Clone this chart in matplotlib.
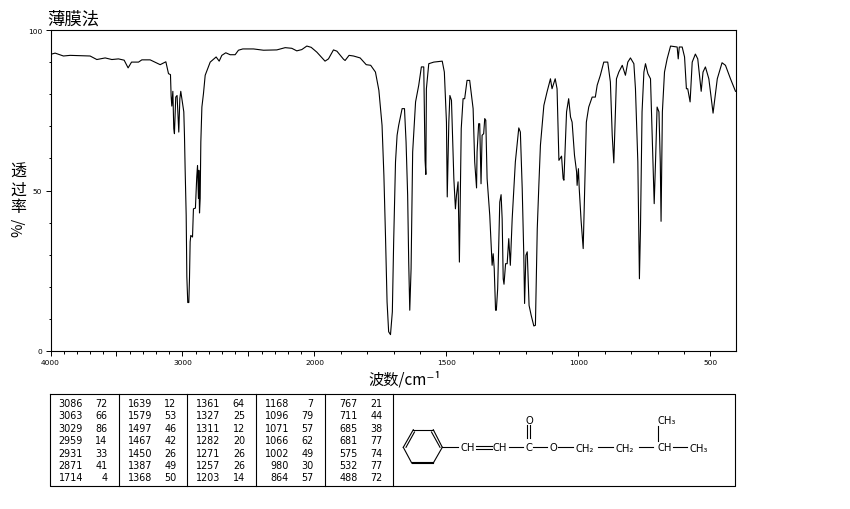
#!/usr/bin/env python3
import numpy as np
from matplotlib import pyplot as plt

plt.rcParams["font.family"] = ["Noto Sans CJK SC", "DejaVu Sans"]

# spectrum
wavenumber = [4000, 3965, 3902, 3851, 3700, 3649, 3586, 3535, 3485, 3442, 3412, 3386, 3333, 3308, 3245, 3169, 3126,
              3106, 3091, 3086, 3081, 3073, 3066, 3061, 3051, 3041, 3035, 3028, 3020, 3013, 3005, 2990, 2985, 2980,
              2972, 2967, 2960, 2952, 2947, 2942, 2937, 2924, 2917, 2902, 2892, 2886, 2879, 2876, 2871, 2866, 2861,
              2853, 2841, 2828, 2790, 2745, 2722, 2702, 2672, 2639, 2601, 2576, 2543, 2462, 2386, 2285, 2222, 2172,
              2134, 2096, 2058, 2025, 1991, 1960, 1947, 1928, 1915, 1890, 1884, 1869, 1852, 1827, 1804, 1787, 1769,
              1756, 1744, 1737, 1731, 1725, 1719, 1712, 1705, 1700, 1693, 1687, 1681, 1668, 1659, 1653, 1647, 1643,
              1639, 1634, 1628, 1617, 1605, 1595, 1586, 1581, 1578, 1576, 1567, 1548, 1516, 1508, 1500, 1497, 1491,
              1487, 1481, 1472, 1466, 1462, 1456, 1451, 1444, 1437, 1431, 1422, 1412, 1399, 1393, 1386, 1384, 1378,
              1374, 1369, 1365, 1359, 1355, 1351, 1346, 1336, 1327, 1323, 1319, 1314, 1311, 1306, 1298, 1293, 1289,
              1285, 1282, 1276, 1270, 1264, 1258, 1251, 1239, 1226, 1220, 1213, 1207, 1204, 1199, 1194, 1187, 1179,
              1169, 1163, 1156, 1150, 1144, 1131, 1119, 1106, 1100, 1088, 1081, 1074, 1064, 1058, 1055, 1045, 1037,
              1030, 1024, 1015, 1007, 1005, 1000, 997, 990, 982, 977, 970, 961, 948, 936, 929, 917, 904, 889, 879,
              872, 866, 862, 856, 847, 834, 822, 813, 803, 790, 784, 775, 771, 769, 765, 759, 752, 746, 737, 727,
              721, 713, 708, 702, 695, 690, 687, 682, 674, 664, 651, 626, 622, 618, 607, 598, 591, 586, 577, 569,
              557, 548, 535, 528, 519, 506, 490, 474, 456, 443, 424, 405]
transmittance = [92.4, 92.8, 91.9, 92.1, 91.9, 90.8, 91.3, 90.8, 91.0, 90.6, 88.2, 90.0, 90.0, 90.7, 90.7, 89.2, 90.1,
                 86.4, 86.1, 79.4, 76.3, 80.9, 69.3, 67.7, 79.1, 79.6, 74.1, 68.2, 78.6, 80.9, 78.6, 74.5, 67.2, 56.8,
                 42.3, 23.1, 15.1, 15.1, 22.5, 34.0, 36.0, 35.5, 44.3, 44.5, 54.2, 57.8, 47.5, 56.3, 43.0, 47.5, 65.1,
                 76.0, 80.2, 85.9, 90.0, 91.6, 90.3, 92.1, 92.9, 92.3, 92.3, 93.7, 94.1, 94.1, 93.7, 93.8, 94.5, 94.3,
                 93.5, 93.9, 95.0, 94.6, 93.1, 90.3, 91.0, 93.8, 93.4, 90.9, 90.5, 92.1, 91.9, 91.3, 89.2, 89.0, 86.9,
                 81.2, 70.3, 54.7, 36.0, 15.3, 6.0, 5.1, 12.2, 34.0, 58.9, 67.2, 70.3, 75.5, 75.5, 65.1, 48.5, 27.7,
                 12.7, 25.6, 62.0, 77.6, 82.8, 88.5, 88.5, 59.4, 55.0, 81.7, 89.5, 90.0, 90.3, 86.9, 71.3, 48.0, 71.3,
                 79.6, 78.1, 53.7, 44.3, 48.5, 52.7, 27.7, 69.3, 78.6, 78.6, 84.3, 84.3, 75.5, 58.9, 50.8, 62.0, 70.8,
                 70.8, 52.1, 67.2, 67.7, 72.4, 71.9, 53.7, 42.3, 26.7, 30.3, 25.6, 12.7, 12.7, 19.4, 46.4, 48.7, 41.2,
                 22.5, 20.8, 27.2, 27.2, 35.0, 26.7, 41.2, 58.9, 69.5, 68.2, 50.6, 29.8, 14.8, 29.8, 30.9, 14.2, 11.1,
                 7.8, 8.0, 38.1, 51.6, 64.1, 76.5, 80.7, 84.8, 81.7, 84.8, 81.7, 59.4, 60.7, 53.7, 53.2, 74.5, 78.6,
                 72.9, 71.3, 61.0, 55.8, 51.6, 56.8, 50.6, 40.7, 31.9, 48.5, 71.3, 76.0, 79.1, 79.1, 82.8, 85.9, 90.0,
                 90.0, 83.8, 67.2, 58.6, 69.3, 84.8, 86.9, 89.0, 85.9, 90.0, 91.3, 89.5, 81.7, 58.9, 32.9, 22.5, 38.1,
                 74.5, 86.9, 89.5, 86.4, 84.8, 68.2, 45.9, 58.9, 76.0, 74.5, 58.9, 40.4, 74.5, 86.9, 91.0, 95.0, 94.7,
                 91.0, 94.7, 94.7, 91.6, 81.7, 81.7, 77.6, 90.0, 92.5, 91.0, 80.9, 86.9, 88.5, 84.8, 74.1, 84.8, 89.8,
                 89.0, 84.8, 80.9]

x_labelled = [4000, 3000, 2000, 1500, 1000, 500]
x_long = [3500, 2500]
y_labelled = [0, 50, 100]

peak_wn = [3086, 3063, 3029, 2959, 2931, 2871, 1714,
           1639, 1579, 1497, 1467, 1450, 1387, 1368,
           1361, 1327, 1311, 1282, 1271, 1257, 1203,
           1168, 1096, 1071, 1066, 1002, 980, 864,
           767, 711, 685, 681, 575, 532, 488]
peak_t = [72, 66, 86, 14, 33, 41, 4,
          12, 53, 46, 42, 26, 49, 50,
          64, 25, 12, 20, 26, 26, 14,
          7, 79, 57, 62, 49, 30, 57,
          21, 44, 38, 77, 74, 77, 72]

W, H = 850, 510


def fwd(x):
    x = np.asarray(x, dtype=float)
    return np.where(x > 2000, 2000 + (x - 2000) / 2, x)


def inv(x):
    x = np.asarray(x, dtype=float)
    return np.where(x > 2000, 2000 + (x - 2000) * 2, x)


fig = plt.figure(figsize=(W / 100, H / 100), dpi=100)
ax = fig.add_axes([50.5 / W, 1 - 352 / H, 685 / W, 321 / H])
ax.set_xscale("function", functions=(fwd, inv))
ax.plot(wavenumber, transmittance, color="black", lw=0.8)
ax.set_xlim(4000, 405)
ax.set_ylim(0, 100)

ax.set_xticks(x_labelled + x_long, [str(v) for v in x_labelled] + [""] * len(x_long))
ax.set_xticks(np.arange(500, 4000, 100), minor=True)
ax.set_yticks(y_labelled, [str(v) for v in y_labelled])
ax.set_yticks(np.arange(0, 100, 10), minor=True)
ax.tick_params(which="major", length=3.6, width=0.7, labelsize=5.4, pad=2.5)
ax.tick_params(which="minor", length=1.8, width=0.7)
for lab in ax.get_xticklabels() + ax.get_yticklabels():
    lab.set_family("DejaVu Sans")
for s in ax.spines.values():
    s.set_linewidth(0.8)

# everything outside the plot frame is placed in pixels
ov = fig.add_axes([0, 0, 1, 1])
ov.set_xlim(0, W)
ov.set_ylim(H, 0)
ov.axis("off")

ov.text(47, 20, "薄膜法", fontsize=12.5, ha="left", va="center")
for ch, y in zip("透过率", [172, 190, 208]):
    ov.text(18, y, ch, fontsize=11.5, ha="center", va="center")
ov.text(18, 227, "%/", fontsize=10.5, rotation=90, ha="center", va="center")
ov.text(405, 380, "波数/cm⁻¹", fontsize=11, ha="center", va="center")

# peak table
ov.plot([50, 735, 735, 50, 50], [395, 395, 487, 487, 395], color="black", lw=0.8)
col_left = [50, 119, 187.5, 256, 325]
for x in col_left[1:] + [393]:
    ov.plot([x, x], [395, 487], color="black", lw=0.8)
row_y = [404.5, 416.5, 429, 441.5, 454, 466, 478]
for i, (wn, t) in enumerate(zip(peak_wn, peak_t)):
    x0 = col_left[i // 7]
    y = row_y[i % 7]
    ov.text(x0 + 33, y, str(wn), fontsize=6.9, family="DejaVu Sans", ha="right", va="center")
    ov.text(x0 + 57.5, y, str(t), fontsize=6.9, family="DejaVu Sans", ha="right", va="center")

# structure
bonds = [((403.3, 448.3), (413.3, 430.7)), ((413.3, 430.7), (433.3, 430.7)), ((433.3, 430.7), (442.3, 448.3)),
         ((442.3, 448.3), (433.3, 464)), ((433.3, 464), (411.7, 464)), ((411.7, 464), (403.3, 448.3)),
         ((406, 448.3), (414.5, 433)), ((431.5, 433), (440, 448.3)), ((411.7, 463), (433.3, 463)),
         ((442.3, 448.3), (458.3, 448.3)), ((476, 447), (491.7, 447)), ((476, 450), (491.7, 450)),
         ((509.3, 448.3), (523.3, 448.3)), ((527.5, 439), (527.5, 426)), ((530.5, 439), (530.5, 426)),
         ((533.3, 448.3), (547.3, 448.3)), ((557.7, 448.3), (572.7, 448.3)), ((598.3, 448.3), (612.7, 448.3)),
         ((639.3, 448.3), (653.3, 448.3)), ((658.3, 441.7), (658.3, 426.7)), ((673.3, 448.3), (686.7, 448.3))]
for a, b in bonds:
    ov.plot([a[0], b[0]], [a[1], b[1]], color="black", lw=0.8)
atoms = [(467.3, 448.3, "CH"), (500, 448.3, "CH"), (529, 448.3, "C"), (529.3, 420.7, "O"), (553.3, 448.3, "O"),
         (585, 448.8, "CH₂"), (625, 448.8, "CH₂"), (665, 448.3, "CH"), (666.7, 421, "CH₃"), (698.3, 448.8, "CH₃")]
for x, y, s in atoms:
    ov.text(x, y, s, fontsize=7.2, family="DejaVu Sans", ha="center", va="center")

fig.savefig("out.png", dpi=100)
